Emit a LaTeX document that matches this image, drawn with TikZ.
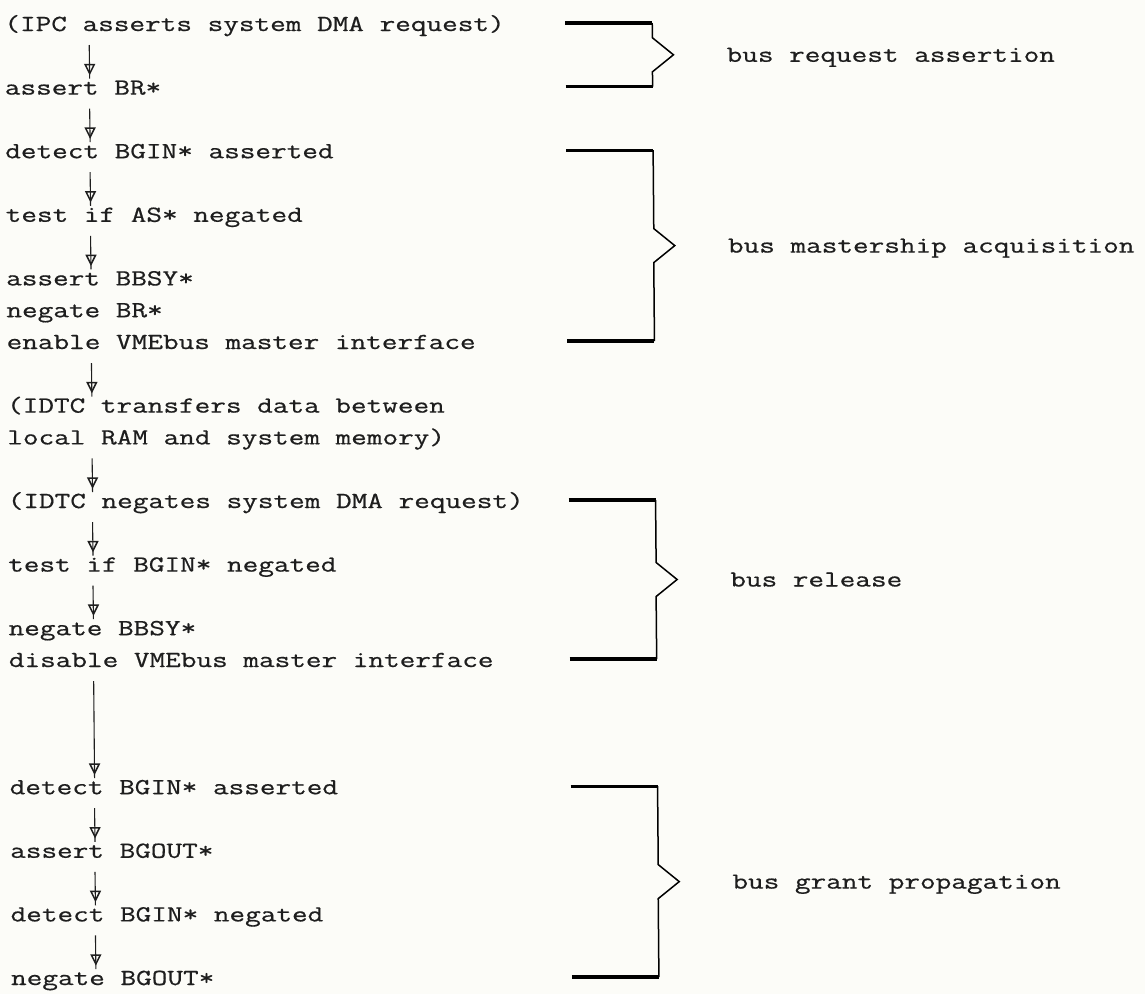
\documentclass[tikz,border=0pt]{standalone}
\usepackage{fontspec}
\setmonofont{Latin Modern Mono}[FakeStretch=1.32,FakeBold=0.6]
\usetikzlibrary{calc}
\definecolor{paper}{RGB}{252,252,248}
\definecolor{ink}{RGB}{30,30,30}
\newcommand\tline[3]{\node[tw] (#1) at ({4+0.007*#2},#2) {#3};}
\newcommand\flowarrow[2]{%
  \draw[stem] ($(#1.base west)+(85,14)$) -- ($(#2.base west)+(85,-16)$) coordinate (ae);
  \draw[stem,line width=1.5pt,line join=miter] ($(ae)+(-4.5,-14)$) -- ($(ae)+(4.5,-14)$) -- ($(ae)+(0,-5)$) -- cycle;}
\newcommand\busbrace[4]{% top node, bottom node, label node name, label text
  \coordinate (#3t) at ($(#1.base west)+(648,-8)$);
  \coordinate (#3b) at ($(#2.base west)+(648,-8)$);
  \coordinate (#3m) at ($(#3t)!0.5!(#3b)$);
  \draw[bracev] (#3t) -- ($(#3m)+(0,-17)$) -- ($(#3m)+(21,0)$) -- ($(#3m)+(0,17)$) -- (#3b);
  \draw[barline] ($(#3t)+(-87,0)$) -- (#3t);
  \draw[barline] ($(#3b)+(-87,0)$) -- (#3b);
  \node[tw] (#3) at ($(#3m)+(74,7)$) {#4};}
\begin{document}
\begin{tikzpicture}[x=1pt,y=-1pt,
  tw/.style={font=\ttfamily\fontsize{23}{23}\selectfont, text=ink, anchor=base west, inner sep=0pt},
  stem/.style={draw=ink, line width=1.1pt},
  barline/.style={draw=black, line width=3.2pt, line cap=butt},
  bracev/.style={draw=black, line width=1.5pt, line join=miter}]
\fill[paper] (0,0) rectangle (1145,994);
\useasboundingbox (0,0) rectangle (1145,994);
\tline{l0}{31}{(IPC asserts system DMA request)}
\tline{l2}{94.6}{assert BR*}
\tline{l4}{158.2}{detect BGIN* asserted}
\tline{l6}{221.8}{test if AS* negated}
\tline{l8}{285.4}{assert BBSY*}
\tline{l9}{317.2}{negate BR*}
\tline{l10}{349}{enable VMEbus master interface}
\tline{l12}{412.6}{(IDTC transfers data between}
\tline{l13}{444.4}{local RAM and system memory)}
\tline{l15}{508}{(IDTC negates system DMA request)}
\tline{l17}{571.6}{test if BGIN* negated}
\tline{l19}{635.2}{negate BBSY*}
\tline{l20}{667}{disable VMEbus master interface}
\tline{l24}{794.2}{detect BGIN* asserted}
\tline{l26}{857.8}{assert BGOUT*}
\tline{l28}{921.4}{detect BGIN* negated}
\tline{l30}{985}{negate BGOUT*}
\flowarrow{l0}{l2}
\flowarrow{l2}{l4}
\flowarrow{l4}{l6}
\flowarrow{l6}{l8}
\flowarrow{l10}{l12}
\flowarrow{l13}{l15}
\flowarrow{l15}{l17}
\flowarrow{l17}{l19}
\flowarrow{l20}{l24}
\flowarrow{l24}{l26}
\flowarrow{l26}{l28}
\flowarrow{l28}{l30}
\busbrace{l0}{l2}{ga}{bus request assertion}
\busbrace{l4}{l10}{gb}{bus mastership acquisition}
\busbrace{l15}{l20}{gc}{bus release}
\busbrace{l24}{l30}{gd}{bus grant propagation}
\end{tikzpicture}
\end{document}
